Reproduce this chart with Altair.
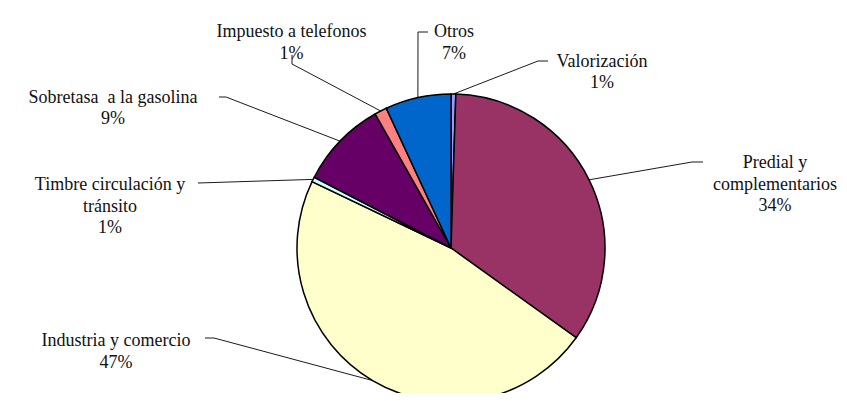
import math
import altair as alt
import pandas as pd

# ---- data ----
categories = ["Valorización", "Predial y complementarios", "Industria y comercio",
              "Timbre circulación y tránsito", "Sobretasa  a la gasolina",
              "Impuesto a telefonos", "Otros"]
values = [0.5, 34.4, 47.2, 0.5, 9.2, 1.3, 6.9]
label_names = ["Valorización", "Predial y\ncomplementarios", "Industria y comercio",
               "Timbre circulación y\ntránsito", "Sobretasa\u00a0 a la gasolina",
               "Impuesto a telefonos", "Otros"]

# ---- style / layout ----
colors = ["#9999FF", "#993366", "#FFFFCC", "#CCFFFF", "#660066", "#FF8080", "#0066CC"]
R = 154
W, H = 831, 385
CX, CY = 443, 240  # pie centre inside the chart
label_x = [151, 324, -335, -341, -338, -159.5, 3]
label_y = [186.5, 85, -93, 63, 150.5, 216, 216]
lead_start = [(97, 187), (252, 86), (-246, -90), (-253, 65), (-232, 151), (-159, 193), (-23, 216)]
lead_elbow = [(87, 187), (241, 86), (-237, -90), (-253, 65), (-225, 151), (-159, 184), (-33, 216)]

total = sum(values)
pct = [f"{int(math.floor(v / total * 100 + 0.5))}%" for v in values]

pie_df = pd.DataFrame({"cat": categories, "val": values, "idx": list(range(len(values)))})

lab_df = pd.DataFrame({
    "cat": categories,
    "text": [n + "\n" + p for n, p in zip(label_names, pct)],
    "x": label_x, "y": label_y,
})

rows = []
cum = 0.0
for i, v in enumerate(values):
    mid = 2 * math.pi * (cum + v / 2) / total
    cum += v
    ex, ey = R * math.sin(mid), R * math.cos(mid)
    pts = [lead_start[i], lead_elbow[i], (ex, ey)]
    for s, (px, py) in enumerate(pts):
        rows.append({"cat": categories[i], "step": s, "x": px, "y": py})
lead_df = pd.DataFrame(rows)

xs = alt.Scale(domain=[-CX, W - CX], nice=False, zero=False)
ys = alt.Scale(domain=[CY - H, CY], nice=False, zero=False)

pie = alt.Chart(pie_df).mark_arc(radius=R, stroke="black", strokeWidth=1.5).encode(
    theta=alt.Theta("val:Q", stack=True),
    color=alt.Color("cat:N", scale=alt.Scale(domain=categories, range=colors), legend=None),
    order=alt.Order("idx:Q"),
    x=alt.datum(0, type="quantitative", scale=xs, axis=None),
    y=alt.datum(0, type="quantitative", scale=ys, axis=None),
)

leaders = alt.Chart(lead_df).mark_line(color="black", strokeWidth=0.9).encode(
    x=alt.X("x:Q", scale=xs, axis=None),
    y=alt.Y("y:Q", scale=ys, axis=None),
    detail="cat:N",
    order="step:Q",
)

labels = alt.Chart(lab_df).mark_text(
    font="Liberation Serif", fontSize=18, lineBreak="\n", lineHeight=21.5,
    align="center", baseline="middle", color="#111111",
).encode(
    x=alt.X("x:Q", scale=xs, axis=None),
    y=alt.Y("y:Q", scale=ys, axis=None),
    text="text:N",
)

chart = alt.layer(leaders, pie, labels).properties(
    width=W, height=H, padding=0, background="white",
    autosize=alt.AutoSizeParams(type="none"),
).configure_view(stroke="transparent", strokeWidth=0)

chart.save("out.html", embed_options={"renderer": "svg", "actions": False})
